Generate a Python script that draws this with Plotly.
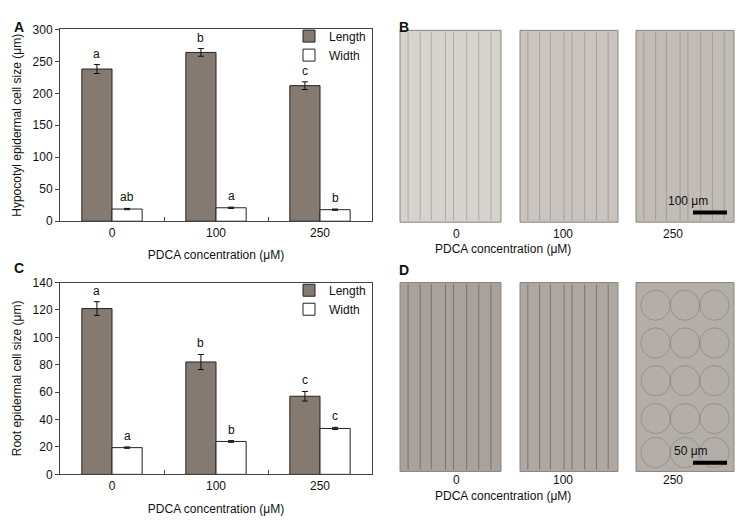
import plotly.graph_objects as go

# valeurs
conc_labels = ["0", "100", "250"]
conc_pos = [0, 1, 2]

hyp_length = [238, 264, 212]
hyp_length_err = [7, 6, 6]
hyp_width = [19, 21, 18]
hyp_width_err = [1, 1, 1]
hyp_length_sig = ["a", "b", "c"]
hyp_width_sig = ["ab", "a", "b"]

root_length = [121, 82, 57]
root_length_err = [5, 5.5, 3.5]
root_width = [19.5, 24, 33.5]
root_width_err = [0.5, 0.6, 0.8]
root_length_sig = ["a", "b", "c"]
root_width_sig = ["a", "b", "c"]

W, H = 743, 531
FONT = "Liberation Sans, Arial, sans-serif"
BAR_GREY = "#857a72"
BW = 0.29


def px(x):
    return x / W


def py(y):
    return 1 - y / H


fig = go.Figure()
annotations = []


def add_panel(xa, ya, length, length_err, width, width_err, l_sig, w_sig, legend):
    xl = [p - BW / 2 for p in conc_pos]
    xw = [p + BW / 2 for p in conc_pos]
    fig.add_trace(go.Bar(
        x=xl, y=length, width=BW, name="Length", xaxis=xa, yaxis=ya, legend=legend,
        marker=dict(color=BAR_GREY, line=dict(color="#222", width=1)),
        error_y=dict(type="data", array=length_err, color="#111", thickness=1, width=3),
    ))
    fig.add_trace(go.Bar(
        x=xw, y=width, width=BW, name="Width", xaxis=xa, yaxis=ya, legend=legend,
        marker=dict(color="white", line=dict(color="#222", width=1)),
        error_y=dict(type="data", array=width_err, color="#111", thickness=1, width=3),
    ))
    # lettres de significativité au-dessus des barres d'erreur
    tops = [v + e for v, e in zip(length, length_err)] + [v + e for v, e in zip(width, width_err)]
    for x, y, t in zip(xl + xw, tops, l_sig + w_sig):
        annotations.append(dict(text=t, x=x, y=y, xref=xa, yref=ya, yanchor="bottom",
                                yshift=2, showarrow=False,
                                font=dict(size=12, color="#111", family=FONT)))


add_panel("x", "y", hyp_length, hyp_length_err, hyp_width, hyp_width_err,
          hyp_length_sig, hyp_width_sig, "legend")
add_panel("x2", "y2", root_length, root_length_err, root_width, root_width_err,
          root_length_sig, root_width_sig, "legend2")

xaxis_common = dict(
    range=[-0.5, 2.5], tickvals=conc_pos, ticktext=conc_labels, ticks="", showgrid=False,
    zeroline=False, showline=True, linecolor="#444", linewidth=1, mirror=True,
    tickfont=dict(size=12, color="#111", family=FONT),
    minor=dict(tickvals=[0.5, 1.5], ticks="inside", ticklen=4, tickcolor="#444"),
    title=dict(text="PDCA concentration (μM)", font=dict(size=12, color="#111", family=FONT), standoff=12),
)
yaxis_common = dict(
    showgrid=False, zeroline=False, showline=True, linecolor="#444", linewidth=1, mirror=True,
    ticks="outside", ticklen=4, tickcolor="#444",
    tickfont=dict(size=12, color="#111", family=FONT),
)

fig.update_layout(
    width=W, height=H, margin=dict(l=0, r=0, t=0, b=0),
    paper_bgcolor="white", plot_bgcolor="white",
    font=dict(family=FONT, color="#111"),
    barmode="overlay",
    xaxis=dict(xaxis_common, domain=[px(60), px(372)], anchor="y"),
    yaxis=dict(yaxis_common, domain=[py(220), py(23)], range=[0, 300], dtick=50, anchor="x",
               title=dict(text="Hypocotyl epidermal cell size (μm)",
                          font=dict(size=12, color="#111", family=FONT), standoff=8)),
    xaxis2=dict(xaxis_common, domain=[px(60), px(372)], anchor="y2"),
    yaxis2=dict(yaxis_common, domain=[py(480), py(283)], range=[0, 140], dtick=20, anchor="x2",
                title=dict(text="Root epidermal cell size (μm)",
                           font=dict(size=12, color="#111", family=FONT), standoff=8)),
    legend=dict(x=px(289), y=py(15), xanchor="left", yanchor="top", bgcolor="rgba(0,0,0,0)",
                font=dict(size=12, family=FONT, color="#111"), itemwidth=30, tracegroupgap=0),
    legend2=dict(x=px(289), y=py(276), xanchor="left", yanchor="top", bgcolor="rgba(0,0,0,0)",
                 font=dict(size=12, family=FONT, color="#111"), itemwidth=30, tracegroupgap=0),
)

# panneaux photo (B et D) : rectangles gris à la place des micrographies
img_x = [(400, 501), (520, 618), (636, 734)]
img_label_x = [456, 575, 685]
# traits verticaux (parois cellulaires), en fraction de la largeur de l'image
stripes = [0.08, 0.2, 0.31, 0.45, 0.53, 0.66, 0.78, 0.9]
shapes = []
panels = [
    dict(top=24, bottom=221, fills=["#d6d2ce", "#c9c4bf", "#c2bcb7"], lab_y=233, title_y=249,
         bar_y=211, bar_text="100 μm", stripe_col="rgba(90,80,75,0.3)", circles=False),
    dict(top=283, bottom=477, fills=["#a8a19c", "#aea7a2", "#b4aea9"], lab_y=495, title_y=511,
         bar_y=468, bar_text="50 μm", stripe_col="rgba(50,42,38,0.4)", circles=True),
]
for pnl in panels:
    for i, ((x0, x1), fill) in enumerate(zip(img_x, pnl["fills"])):
        shapes.append(dict(type="rect", xref="paper", yref="paper", x0=px(x0), x1=px(x1),
                           y0=py(pnl["bottom"]), y1=py(pnl["top"]), fillcolor=fill,
                           line=dict(color="#8a847f", width=1), layer="below"))
        if pnl["circles"] and i == 2:
            for cx in [0.2, 0.5, 0.8]:
                for cy in [0.12, 0.32, 0.52, 0.72, 0.9]:
                    shapes.append(dict(type="circle", xref="paper", yref="paper",
                                       x0=px(x0 + (x1 - x0) * (cx - 0.15)),
                                       x1=px(x0 + (x1 - x0) * (cx + 0.15)),
                                       y0=py(pnl["top"] + (pnl["bottom"] - pnl["top"]) * (cy + 0.08)),
                                       y1=py(pnl["top"] + (pnl["bottom"] - pnl["top"]) * (cy - 0.08)),
                                       line=dict(color="rgba(70,62,58,0.25)", width=1), layer="below"))
        else:
            for s in stripes:
                xs = x0 + (x1 - x0) * s
                shapes.append(dict(type="line", xref="paper", yref="paper", x0=px(xs), x1=px(xs),
                                   y0=py(pnl["bottom"] - 2), y1=py(pnl["top"] + 2),
                                   line=dict(color=pnl["stripe_col"], width=1), layer="below"))
    shapes.append(dict(type="line", xref="paper", yref="paper", x0=px(693), x1=px(727),
                       y0=py(pnl["bar_y"]), y1=py(pnl["bar_y"]), line=dict(color="black", width=4)))
    annotations.append(dict(text=pnl["bar_text"], xref="paper", yref="paper", x=px(710),
                            y=py(pnl["bar_y"] - 3), yanchor="bottom", showarrow=False,
                            font=dict(size=12, color="#111", family=FONT)))
    for lab, lx in zip(conc_labels, img_label_x):
        annotations.append(dict(text=lab, xref="paper", yref="paper", x=px(lx), y=py(pnl["lab_y"]),
                                showarrow=False, font=dict(size=12, color="#111", family=FONT)))
    annotations.append(dict(text="PDCA concentration (μM)", xref="paper", yref="paper", x=px(573),
                            y=py(pnl["title_y"]), showarrow=False,
                            font=dict(size=12, color="#111", family=FONT)))

for letter, lx, ly in [("A", 12, 10), ("B", 404, 10), ("C", 12, 268), ("D", 404, 270)]:
    annotations.append(dict(text="<b>%s</b>" % letter, xref="paper", yref="paper", x=px(lx), y=py(ly),
                            showarrow=False, font=dict(size=14, color="#111", family=FONT)))

fig.update_layout(shapes=shapes, annotations=annotations)

# page sans marge pour que la figure occupe exactement la fenêtre
fig.write_html("out.html", config={"displayModeBar": False},
               post_script="document.body.style.margin='0';")
